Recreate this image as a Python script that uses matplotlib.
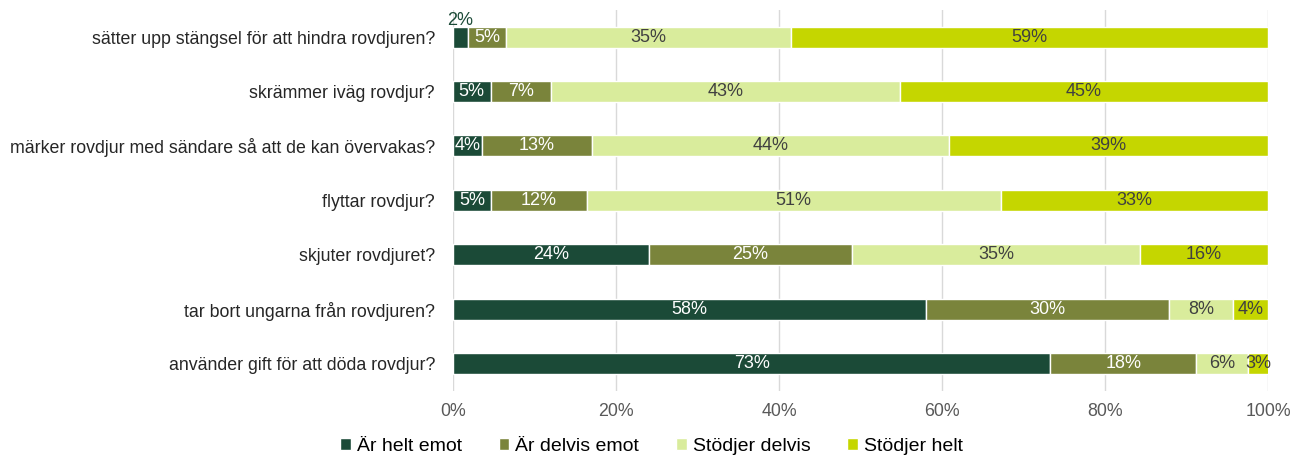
import matplotlib
matplotlib.use("Agg")
import matplotlib.pyplot as plt
import numpy as np

plt.rcParams['font.family'] = ['Liberation Sans', 'DejaVu Sans']

categories = [
    "sätter upp stängsel för att hindra rovdjuren?",
    "skrämmer iväg rovdjur?",
    "märker rovdjur med sändare så att de kan övervakas?",
    "flyttar rovdjur?",
    "skjuter rovdjuret?",
    "tar bort ungarna från rovdjuren?",
    "använder gift för att döda rovdjur?",
]
series_names = ["Är helt emot", "Är delvis emot", "Stödjer delvis", "Stödjer helt"]
helt_emot = [1.8, 4.6, 3.6, 4.7, 24.0, 58.0, 73.3]
delvis_emot = [4.7, 7.4, 13.4, 11.7, 25.0, 29.9, 17.9]
stodjer_delvis = [35.0, 42.8, 43.9, 50.8, 35.3, 7.8, 6.3]
stodjer_helt = [58.5, 45.2, 39.1, 32.8, 15.7, 4.3, 2.6]
labels_helt_emot = ["2%", "5%", "4%", "5%", "24%", "58%", "73%"]
labels_delvis_emot = ["5%", "7%", "13%", "12%", "25%", "30%", "18%"]
labels_stodjer_delvis = ["35%", "43%", "44%", "51%", "35%", "8%", "6%"]
labels_stodjer_helt = ["59%", "45%", "39%", "33%", "16%", "4%", "3%"]
xticks = [0, 20, 40, 60, 80, 100]
xticklabels = ["0%", "20%", "40%", "60%", "80%", "100%"]

colors = ["#1B4A37", "#7A843B", "#D9EC9C", "#C5D600"]
text_colors = ["white", "white", "#404040", "#404040"]

series = [helt_emot, delvis_emot, stodjer_delvis, stodjer_helt]
series_labels = [labels_helt_emot, labels_delvis_emot, labels_stodjer_delvis, labels_stodjer_helt]

fig = plt.figure(figsize=(13.03, 4.58), dpi=100)
ax = fig.add_axes([0.3477, 0.1463, 0.6254, 0.8323])

y = np.arange(len(categories))
left = np.zeros(len(categories))
for i, (vals, name) in enumerate(zip(series, series_names)):
    vals = np.array(vals)
    ax.barh(y, vals, left=left, height=0.385, color=colors[i], label=name,
            edgecolor="white", linewidth=1.0, zorder=3)
    for j, v in enumerate(vals):
        cx = left[j] + v / 2
        lab = series_labels[i][j]
        if i == 0 and j == 0:
            ax.text(cx, y[j] - 0.31, lab, ha="center", va="center", fontsize=13,
                    color=colors[0], zorder=4)
        else:
            ax.text(cx, y[j], lab, ha="center", va="center", fontsize=13,
                    color=text_colors[i], zorder=4)
    left += vals

ax.set_xlim(0, 100)
ax.set_ylim(len(categories) - 0.5, -0.5)
ax.set_yticks(y)
ax.set_yticklabels(categories, fontsize=12.8, color="#262626")
ax.set_xticks(xticks)
ax.set_xticklabels(xticklabels, fontsize=12.8, color="#595959")
ax.tick_params(axis="both", length=0)
ax.tick_params(axis="x", pad=9)
ax.tick_params(axis="y", pad=13)
ax.grid(axis="x", color="#D9D9D9", linewidth=1, zorder=0)
for s in ax.spines.values():
    s.set_visible(False)

handles, labs = ax.get_legend_handles_labels()
fig.legend(handles, labs, loc="center", bbox_to_anchor=(0.5, 0.026), ncol=4,
           frameon=False, fontsize=14, handlelength=0.55, handleheight=0.55,
           handletextpad=0.3, columnspacing=1.9)

fig.savefig("out.png", dpi=100)
